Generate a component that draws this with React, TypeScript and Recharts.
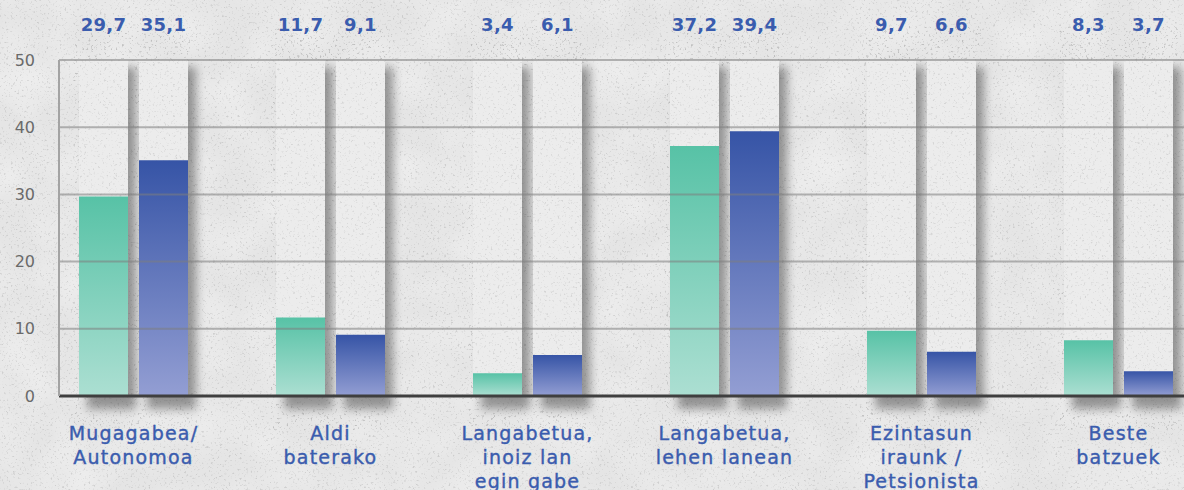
import React from "react";
import { Bar, BarChart, LabelList, ReferenceLine, XAxis, YAxis } from "recharts";

const categories = [
  "Mugagabea/\nAutonomoa",
  "Aldi\nbaterako",
  "Langabetua,\ninoiz lan\negin gabe",
  "Langabetua,\nlehen lanean",
  "Ezintasun\niraunk /\nPetsionista",
  "Beste\nbatzuek",
];
const seriesA = [29.7, 11.7, 3.4, 37.2, 9.7, 8.3];
const seriesB = [35.1, 9.1, 6.1, 39.4, 6.6, 3.7];
const yTicks = [0, 10, 20, 30, 40, 50];

const data = categories.map((name, i) => ({ name, a: seriesA[i], b: seriesB[i] }));

const BLUE_TEXT = "#3a5cae";
const FONT = "'DejaVu Sans', sans-serif";

function Column(props: any) {
  const { x, y, width, height } = props;
  return (
    <g>
      <rect x={x + 8} y={y + 7} width={width} height={height + 6} fill="#000" opacity={0.36} filter="url(#colShadow)" />
      <rect x={x} y={y} width={width} height={height} fill="#ececec" />
      <rect x={x} y={y} width={width} height={height} filter="url(#noise)" opacity={0.25} />
    </g>
  );
}

function ValueLabel(props: any) {
  const { x, width, value } = props;
  return (
    <text x={x + width / 2} y={31} textAnchor="middle" fill={BLUE_TEXT} fontFamily={FONT} fontWeight={700} fontSize={18} letterSpacing={0.3}>
      {String(value).replace(".", ",")}
    </text>
  );
}

function CategoryTick(props: any) {
  const { x, y, payload } = props;
  const lines = String(payload.value).split("\n");
  return (
    <text x={x} y={y} textAnchor="middle" fill={BLUE_TEXT} fontFamily={FONT} fontSize={19} letterSpacing={1.2} stroke={BLUE_TEXT} strokeWidth={0.4}>
      {lines.map((line, i) => (
        <tspan key={i} x={x} dy={i === 0 ? 42 : 24}>
          {line}
        </tspan>
      ))}
    </text>
  );
}

export default function App() {
  return (
    <div style={{ position: "fixed", left: 0, top: 0, width: 1184, height: 490, overflow: "hidden", background: "#e3e3e3" }}>
      <svg width={1184} height={490} style={{ position: "absolute", left: 0, top: 0 }}>
        <filter id="noise">
          <feTurbulence type="fractalNoise" baseFrequency="0.45" numOctaves="3" seed="7" />
          <feColorMatrix type="matrix" values="0 0 0 0 0.3  0 0 0 0 0.3  0 0 0 0 0.3  5 0 0 0 -3" />
        </filter>
        <filter id="mottle">
          <feTurbulence type="fractalNoise" baseFrequency="0.02" numOctaves="2" seed="2" />
          <feColorMatrix type="matrix" values="0 0 0 0 1  0 0 0 0 1  0 0 0 0 1  1.2 0 0 0 -0.4" />
        </filter>
        <rect width={1184} height={490} fill="#e5e5e5" />
        <rect width={1184} height={490} filter="url(#mottle)" opacity={0.5} />
        <rect width={1184} height={490} filter="url(#noise)" opacity={0.3} />
      </svg>
      <div style={{ position: "absolute", left: 0, top: 0 }}>
        <BarChart
          width={1230}
          height={490}
          data={data}
          margin={{ top: 60, right: 13, bottom: 0, left: 0 }}
          barCategoryGap={44}
          barGap={11}
        >
          <defs>
            <linearGradient id="gradA" x1="0" y1="0" x2="0" y2="1">
              <stop offset="0%" stopColor="#57c2a6" />
              <stop offset="100%" stopColor="#acdfd2" />
            </linearGradient>
            <linearGradient id="gradB" x1="0" y1="0" x2="0" y2="1">
              <stop offset="0%" stopColor="#3654a6" />
              <stop offset="100%" stopColor="#939ed3" />
            </linearGradient>
            <filter id="colShadow" x="-50%" y="-10%" width="200%" height="120%">
              <feGaussianBlur stdDeviation="5" />
            </filter>
          </defs>
          <XAxis
            dataKey="name"
            axisLine={false}
            tickLine={false}
            tickSize={0}
            height={94}
            interval={0}
            padding={{ left: -24, right: 0 }}
            tick={<CategoryTick />}
          />
          <YAxis
            domain={[0, 50]}
            ticks={yTicks}
            width={59}
            tickLine={false}
            tickSize={0}
            tickMargin={24}
            axisLine={{ stroke: "#a3a3a3", strokeWidth: 2 }}
            tick={{ fill: "#6a6a6a", fontFamily: FONT, fontSize: 16 }}
          />
          <Bar dataKey="a" barSize={49} fill="url(#gradA)" background={<Column />} isAnimationActive={false}>
            <LabelList dataKey="a" content={<ValueLabel />} />
          </Bar>
          <Bar dataKey="b" barSize={49} fill="url(#gradB)" background={<Column />} isAnimationActive={false}>
            <LabelList dataKey="b" content={<ValueLabel />} />
          </Bar>
          {yTicks.slice(1).map((t) => (
            <ReferenceLine key={t} y={t} stroke="#7d7d7d" strokeOpacity={0.55} strokeWidth={2} />
          ))}
          <ReferenceLine y={0} stroke="#3f3f3f" strokeWidth={3} />
        </BarChart>
      </div>
    </div>
  );
}
